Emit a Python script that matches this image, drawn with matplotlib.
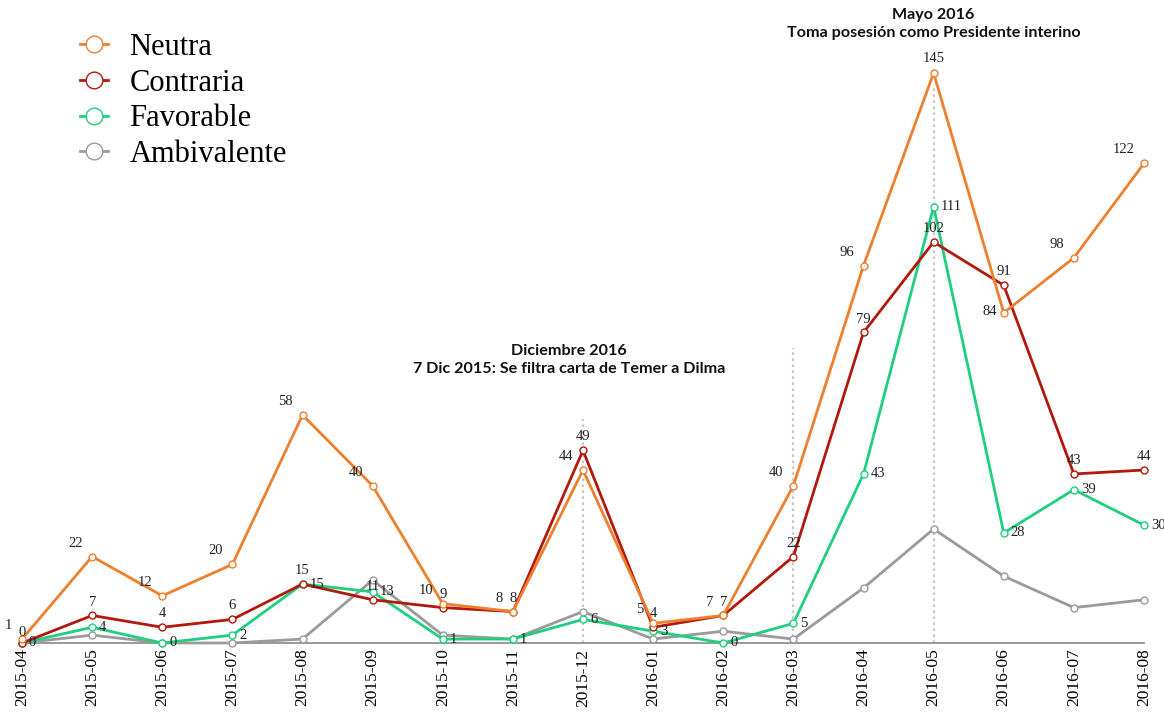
import matplotlib
matplotlib.use("Agg")
import matplotlib.pyplot as plt
from matplotlib.lines import Line2D

months = ["2015-04", "2015-05", "2015-06", "2015-07", "2015-08", "2015-09",
          "2015-10", "2015-11", "2015-12", "2016-01", "2016-02", "2016-03",
          "2016-04", "2016-05", "2016-06", "2016-07", "2016-08"]
neutra = [1, 22, 12, 20, 58, 40, 10, 8, 44, 5, 7, 40, 96, 145, 84, 98, 122]
contraria = [0, 7, 4, 6, 15, 11, 9, 8, 49, 4, 7, 22, 79, 102, 91, 43, 44]
favorable = [0, 4, 0, 2, 15, 13, 1, 1, 6, 3, 0, 5, 43, 111, 28, 39, 30]
ambivalente = [0, 2, 0, 0, 1, 16, 2, 1, 8, 1, 3, 1, 14, 29, 17, 9, 11]

events = [
    (8, 57, "Diciembre 2016\n7 Dic 2015: Se filtra carta de Temer a Dilma"),
    (11, 75, None),
    (13, 142, "Mayo 2016\nToma posesión como Presidente interino"),
]

c_neu = "#ee7f2d"
c_con = "#b3180c"
c_fav = "#1fcf7f"
c_amb = "#9a9a9a"

W, H = 1164, 719
fig = plt.figure(figsize=(W / 100, H / 100), dpi=100)
x0, x1 = 22, 1144
y0px = 643
ppu = 570 / 145.0
ytop = 150
ax = fig.add_axes([x0 / W, (H - y0px) / H, (x1 - x0) / W, ytop * ppu / H])
ax.set_xlim(0, len(months) - 1)
ax.set_ylim(0, ytop)

xs = list(range(len(months)))

# event lines
for xi, ytop_line, txt in events:
    ax.plot([xi, xi], [0, ytop_line], color="#c8c8c8", lw=1.6, ls=(0, (1.2, 1.5)), zorder=1)

series = [("Ambivalente", ambivalente, c_amb),
          ("Favorable", favorable, c_fav),
          ("Contraria", contraria, c_con),
          ("Neutra", neutra, c_neu)]
for name, vals, col in series:
    ax.plot(xs, vals, color=col, lw=2.0, marker="o", ms=5, mfc="white",
            mec=col, mew=1.0, clip_on=False, zorder=3)

lab_font = dict(family="Liberation Serif", fontsize=10.5, color="#222222")
for i, v in enumerate(neutra):
    off = (-7, 5)
    ha = "right"
    if i == 13:
        off, ha = (0, 6), "center"
    if i == 14:
        off, ha = (-5, -4), "right"
    ax.annotate(str(v), (i, v), xytext=off, textcoords="offset points", ha=ha, va="bottom", **lab_font)
for i, v in enumerate(contraria):
    off = (0, 5)
    ha = "center"
    if i == 0:
        off = (0, 3)
    ax.annotate(str(v), (i, v), xytext=off, textcoords="offset points", ha=ha, va="bottom", **lab_font)
for i, v in enumerate(favorable):
    ax.annotate(str(v), (i, v), xytext=(5, 0), textcoords="offset points", ha="left", va="center", **lab_font)

# event annotations
ax.text(7.8, 68, events[0][2], ha="center", va="bottom", fontsize=11.6, fontweight="bold",
        family="Lato", linespacing=1.3, color="#111111")
ax.text(13.0, 153.5, events[2][2], ha="center", va="bottom", fontsize=11.6, fontweight="bold",
        family="Lato", linespacing=1.3, color="#111111", clip_on=False)

# axes styling
for s in ["top", "right", "left"]:
    ax.spines[s].set_visible(False)
ax.spines["bottom"].set_color("#888888")
ax.spines["bottom"].set_linewidth(1.2)
ax.set_yticks([])
ax.set_xticks(xs)
ax.set_xticklabels(months, rotation=90, family="Liberation Serif", fontsize=12.5)
ax.tick_params(axis="x", length=0, pad=4)

# legend
handles = [Line2D([0], [0], color=c, lw=2, marker="o", ms=12, mfc="white", mec=c, mew=1.0)
           for c in (c_neu, c_con, c_fav, c_amb)]
leg = fig.legend(handles, ["Neutra", "Contraria", "Favorable", "Ambivalente"],
                 loc="upper left", bbox_to_anchor=(80 / W, 1 - 33 / H), frameon=False,
                 prop=dict(family="Liberation Serif", size=22), handlelength=0.9,
                 handletextpad=0.72, labelspacing=0.22, borderaxespad=0, borderpad=0)

fig.savefig("out.png", dpi=100)
